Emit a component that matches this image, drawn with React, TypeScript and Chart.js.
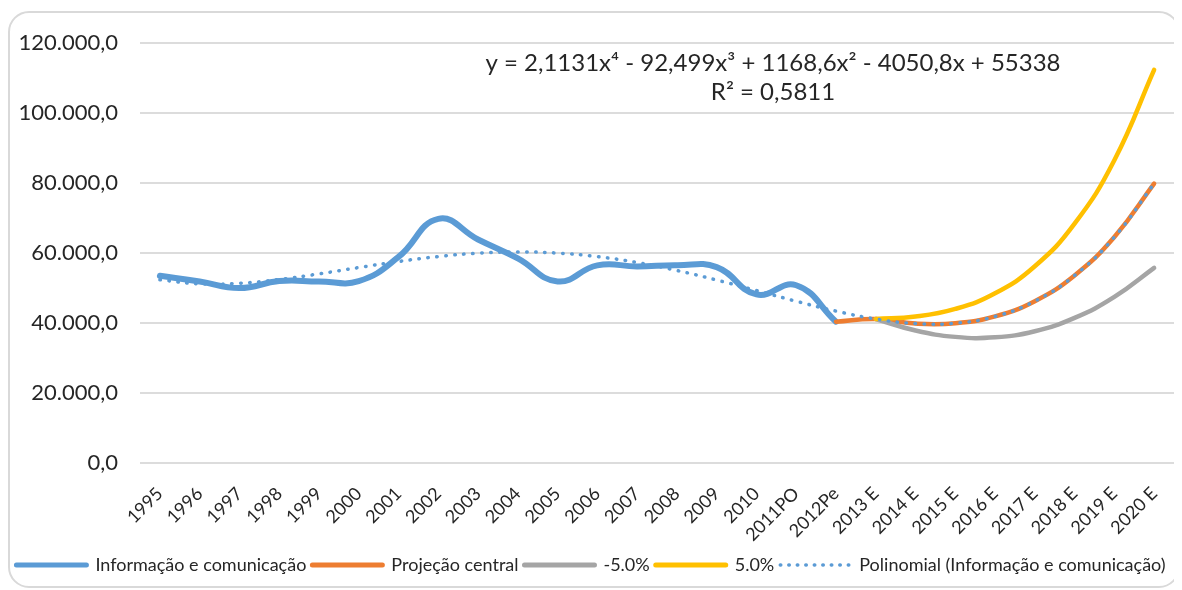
import React, { useEffect, useRef } from "react";
import { Chart, registerables } from "chart.js";

Chart.register(...registerables);

const categories = [
  "1995", "1996", "1997", "1998", "1999", "2000", "2001", "2002", "2003", "2004",
  "2005", "2006", "2007", "2008", "2009", "2010", "2011PO", "2012Pe",
  "2013 E", "2014 E", "2015 E", "2016 E", "2017 E", "2018 E", "2019 E", "2020 E",
];

// Informação e comunicação (1995 .. 2012Pe)
const infoValues = [
  53500, 51900, 50000, 52000, 51900, 52000, 58900, 69800, 63900, 58500,
  51900, 56500, 56200, 56500, 56000, 48200, 50800, 40400,
];

// Projeção central (2012Pe .. 2020 E)
const centralValues = [40400, 41168, 39866, 39948, 41900, 46255, 53602, 64576, 79865];

// -5.0% (2013 E .. 2020 E)
const minusValues = [41168, 37873, 36053, 35924, 37675, 41476, 47469, 55773];

// 5.0% (2013 E .. 2020 E)
const plusValues = [41168, 41859, 44043, 48504, 56223, 68411, 86538, 112378];

// Polinomial (Informação e comunicação) (1995 .. 2020 E)
const polyValues = [
  52365, 51205, 51377, 52453, 54057, 55862, 57590, 59018, 59970, 60322,
  60002, 58986, 57303, 55033, 52303, 49295, 46240, 43421, 41168, 39866,
  39948, 41900, 46255, 53602, 64576, 79865,
];

const yTicks = [0, 20000, 40000, 60000, 80000, 100000, 120000];

const seriesNames = [
  "Informação e comunicação",
  "Projeção central",
  "-5.0%",
  "5.0%",
  "Polinomial (Informação e comunicação)",
];

const equationLines = [
  "y = 2,1131x⁴ - 92,499x³ + 1168,6x² - 4050,8x + 55338",
  "R² = 0,5811",
];

const FONT = "Lato, 'Open Sans', sans-serif";
const TEXT = "#262626";

function pad(arr: number[], before: number, total: number): (number | null)[] {
  const out: (number | null)[] = [];
  for (let i = 0; i < before; i++) out.push(null);
  for (const v of arr) out.push(v);
  while (out.length < total) out.push(null);
  return out;
}

function fmt(v: number): string {
  const s = Math.round(v).toString().replace(/\B(?=(\d{3})+(?!\d))/g, ".");
  return s + ",0";
}

export default function App() {
  const ref = useRef<HTMLCanvasElement | null>(null);

  useEffect(() => {
    if (!ref.current) return;
    const n = categories.length;

    const frame = {
      id: "frame",
      beforeDraw(chart: any) {
        const ctx = chart.ctx;
        ctx.save();
        ctx.strokeStyle = "#d9d9d9";
        ctx.lineWidth = 2;
        ctx.beginPath();
        (ctx as any).roundRect(1, 4, 1170, 575, 20);
        ctx.stroke();
        ctx.restore();
      },
      afterDraw(chart: any) {
        const ctx = chart.ctx;
        ctx.save();
        ctx.fillStyle = TEXT;
        ctx.font = `24px ${FONT}`;
        ctx.textAlign = "center";
        ctx.textBaseline = "middle";
        ctx.fillText(equationLines[0], 765, 55);
        ctx.fillText(equationLines[1], 765, 84);
        ctx.restore();
      },
    };

    const chart = new Chart(ref.current, {
      type: "line",
      data: {
        labels: categories,
        datasets: [
          {
            label: seriesNames[0],
            data: pad(infoValues, 0, n),
            borderColor: "#5B9BD5",
            backgroundColor: "#5B9BD5",
            borderWidth: 6,
            tension: 0.45,
            pointRadius: 0,
            borderCapStyle: "round",
            borderJoinStyle: "round",
            spanGaps: false,
            order: 4,
          },
          {
            label: seriesNames[1],
            data: pad(centralValues, 17, n),
            borderColor: "#ED7D31",
            backgroundColor: "#ED7D31",
            borderWidth: 4.5,
            tension: 0.45,
            pointRadius: 0,
            borderCapStyle: "round",
            order: 3,
          },
          {
            label: seriesNames[2],
            data: pad(minusValues, 18, n),
            borderColor: "#A5A5A5",
            backgroundColor: "#A5A5A5",
            borderWidth: 4.5,
            tension: 0.45,
            pointRadius: 0,
            borderCapStyle: "round",
            order: 2,
          },
          {
            label: seriesNames[3],
            data: pad(plusValues, 18, n),
            borderColor: "#FFC000",
            backgroundColor: "#FFC000",
            borderWidth: 4.5,
            tension: 0.45,
            pointRadius: 0,
            borderCapStyle: "round",
            order: 1,
          },
          {
            label: seriesNames[4],
            data: pad(polyValues, 0, n),
            borderColor: "#5B9BD5",
            backgroundColor: "#5B9BD5",
            borderWidth: 3.5,
            borderDash: [0.5, 8.5],
            tension: 0.45,
            pointRadius: 0,
            borderCapStyle: "round",
            order: 0,
          },
        ],
      },
      options: {
        animation: false,
        responsive: false,
        maintainAspectRatio: false,
        layout: { padding: { top: 26, left: 0, right: 8, bottom: 6 } },
        scales: {
          x: {
            offset: true,
            grid: { display: false },
            border: { display: false },
            ticks: {
              autoSkip: false,
              maxRotation: 45,
              minRotation: 45,
              padding: 12,
              color: TEXT,
              font: { family: FONT, size: 18 },
            },
            afterFit: (s: any) => {
              s.height = 87;
            },
          },
          y: {
            min: 0,
            max: 120000,
            afterBuildTicks: (s: any) => {
              s.ticks = yTicks.map((v) => ({ value: v }));
            },
            grid: { color: "#dcdcdc", lineWidth: 2, drawTicks: false },
            border: { display: false },
            ticks: {
              padding: 22,
              color: TEXT,
              font: { family: FONT, size: 22 },
              callback: (v: any) => fmt(Number(v)),
            },
            afterFit: (s: any) => {
              s.width = 132;
            },
          },
        },
        plugins: {
          tooltip: { enabled: false },
          legend: {
            position: "bottom",
            labels: {
              usePointStyle: true,
              pointStyleWidth: 70,
              boxHeight: 18,
              padding: 6,
              color: TEXT,
              font: { family: FONT, size: 18 },
              sort: (a: any, b: any) => a.datasetIndex - b.datasetIndex,
              generateLabels: (chart: any) =>
                chart.data.datasets.map((ds: any, i: number) => ({
                  text: ds.label,
                  datasetIndex: i,
                  fillStyle: ds.borderColor,
                  strokeStyle: ds.borderColor,
                  lineWidth: i === 4 ? 3.5 : 5,
                  lineDash: i === 4 ? [0.5, 8] : [],
                  lineCap: "round",
                  pointStyle: "line",
                  hidden: false,
                  fontColor: TEXT,
                })),
            },
          },
        },
      },
      plugins: [frame],
    });

    return () => chart.destroy();
  }, []);

  return (
    <canvas
      ref={ref}
      width={1174}
      height={582}
      style={{ display: "block", width: 1174, height: 582 }}
    />
  );
}
